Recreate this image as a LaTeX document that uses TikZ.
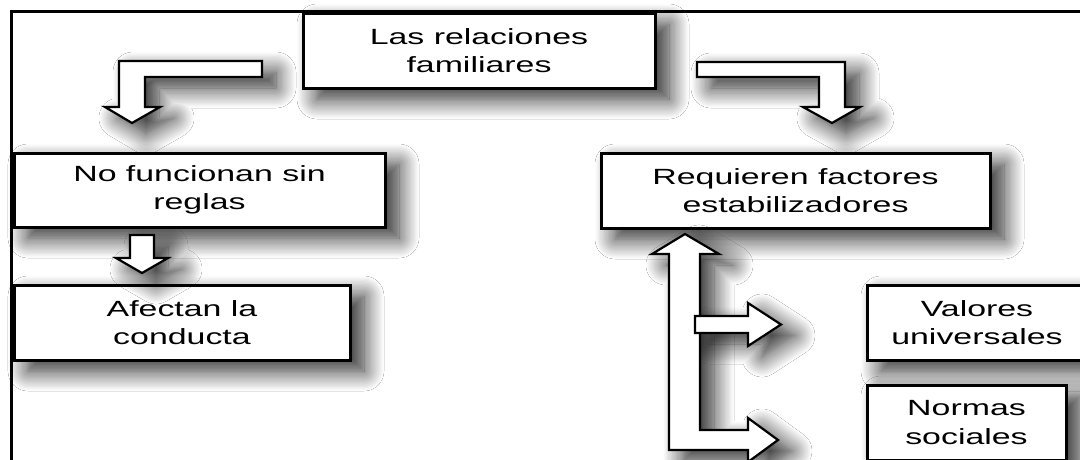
\documentclass[tikz,border=0pt]{standalone}
\usepackage{fontspec}
\setmainfont{Liberation Sans}[FakeStretch=1.54]
\usetikzlibrary{shadows.blur}
\tikzset{
  bshadow/.style={blur shadow={shadow xshift=14pt, shadow yshift=-11pt, shadow blur radius=20pt, shadow opacity=85, shadow blur steps=16}},
  box/.style={draw, line width=3pt, fill=white, align=center, inner sep=0pt,
    font=\fontsize{22}{28.5}\selectfont, bshadow},
  blockarrow/.style={draw, line width=2.2pt, fill=white, line join=miter},
  frame/.style={draw, line width=3pt},
}
\begin{document}
\begin{tikzpicture}[x=1pt,y=-1pt]
\useasboundingbox (0,0) rectangle (1080,459);
\fill[white] (0,0) rectangle (1080,459);
% outer frame
\draw[frame] (11.5,11.5) rectangle (1110,490);

% boxes
\node[box, minimum width=352pt, minimum height=75pt] (top) at (479,50.5) {Las relaciones\\familiares};
\node[box, minimum width=371pt, minimum height=74pt] (nof) at (199.5,190) {No funcionan sin\\reglas};
\node[box, minimum width=389pt, minimum height=75pt] (req) at (795.5,190.5) {Requieren factores\\estabilizadores};
\node[box, minimum width=336pt, minimum height=75pt] (afe) at (182,322.5) {Afectan la\\conducta};
\node[box, minimum width=220pt, minimum height=75pt] (val) at (977,322.5) {Valores\\universales};
\node[box, minimum width=199pt, minimum height=75pt] (nor) at (966.5,422.5) {Normas\\sociales};

% arrow shadows
\path[bshadow] (262,61) -- (119,61) -- (119,107) -- (105,107) -- (132,123) -- (160,107) -- (145,107) -- (145,77) -- (262,77) -- cycle;
\path[bshadow] (697,62) -- (845,62) -- (845,107) -- (860,107) -- (832,123) -- (803,107) -- (819,107) -- (819,77) -- (697,77) -- cycle;
\path[bshadow] (130,235) -- (154,235) -- (154,258) -- (168,258) -- (142,273) -- (116,258) -- (130,258) -- cycle;
\path[bshadow] (685,234) -- (719,254) -- (700,254) -- (700,430) -- (748,430) -- (748,418) -- (778,440) -- (748,462) -- (748,450) -- (669,450) -- (669,254) -- (652,254) -- cycle;
\path[bshadow] (695,316) -- (748,316) -- (748,303) -- (781,324.5) -- (748,346) -- (748,333) -- (695,333) -- cycle;

% block arrows
\draw[blockarrow] (262,61) -- (119,61) -- (119,107) -- (105,107) -- (132,123) -- (160,107) -- (145,107) -- (145,77) -- (262,77) -- cycle;
\draw[blockarrow] (697,62) -- (845,62) -- (845,107) -- (860,107) -- (832,123) -- (803,107) -- (819,107) -- (819,77) -- (697,77) -- cycle;
\draw[blockarrow] (130,235) -- (154,235) -- (154,258) -- (168,258) -- (142,273) -- (116,258) -- (130,258) -- cycle;
\draw[blockarrow] (685,234) -- (719,254) -- (700,254) -- (700,430) -- (748,430) -- (748,418) -- (778,440) -- (748,462) -- (748,450) -- (669,450) -- (669,254) -- (652,254) -- cycle;
\draw[blockarrow] (695,316) -- (748,316) -- (748,303) -- (781,324.5) -- (748,346) -- (748,333) -- (695,333) -- cycle;
\end{tikzpicture}
\end{document}
